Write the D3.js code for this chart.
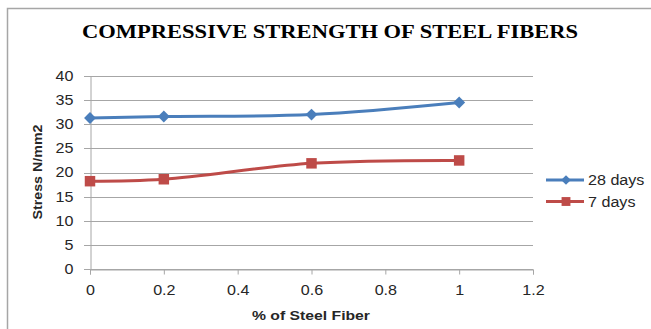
<!DOCTYPE html>
<html>
<head>
<meta charset="utf-8">
<script src="https://cdn.jsdelivr.net/npm/d3@7"></script>
<style>
  html, body { margin: 0; padding: 0; background: #fff; }
  svg { display: block; }
</style>
</head>
<body>
<svg id="chart" width="651" height="329"></svg>
<script>
// Steel fiber dosage (%) and compressive strength (N/mm2)
const fiberPct = [0, 0.2, 0.6, 1];
const strength28 = [31.3, 31.6, 32.0, 34.5];
const strength7 = [18.2, 18.6, 21.9, 22.5];
const xTicks = [0, 0.2, 0.4, 0.6, 0.8, 1, 1.2];
const yTicks = [0, 5, 10, 15, 20, 25, 30, 35, 40];
const seriesNames = ["28 days", "7 days"];
const seriesColors = ["#4a7ebb", "#be4b48"];

const svg = d3.select("#chart");
const font = "'Liberation Sans', Arial, sans-serif";
const WIDEN = 1.15; // text is set slightly wide

// Stretch a text node horizontally by a factor
function widen(sel, k) {
  sel.each(function () {
    const len = this.getComputedTextLength();
    d3.select(this).attr("textLength", len * k).attr("lengthAdjust", "spacingAndGlyphs");
  });
}

// Outer frame
svg.append("rect")
  .attr("x", 7.5).attr("y", 8.5)
  .attr("width", 700).attr("height", 400)
  .attr("fill", "#fff").attr("stroke", "#a6a6a6").attr("stroke-width", 1.5);

// Title
svg.append("text")
  .attr("x", 330).attr("y", 37.5)
  .attr("text-anchor", "middle")
  .attr("font-family", "'Liberation Serif', 'Times New Roman', serif")
  .attr("font-weight", "bold")
  .attr("font-size", 18.5)
  .attr("fill", "#000")
  .attr("textLength", 496).attr("lengthAdjust", "spacingAndGlyphs")
  .text("COMPRESSIVE STRENGTH OF STEEL FIBERS");

const x = d3.scaleLinear().domain([0, 1.2]).range([90, 533]);
const y = d3.scaleLinear().domain([0, 40]).range([269, 76]);

// Horizontal gridlines
svg.append("g")
  .selectAll("line")
  .data(yTicks)
  .join("line")
  .attr("x1", 84).attr("x2", x(1.2))
  .attr("y1", d => Math.round(y(d)) + 0.5)
  .attr("y2", d => Math.round(y(d)) + 0.5)
  .attr("stroke", "#a6a6a6").attr("stroke-width", 1);

// Y axis
const yAxis = svg.append("g")
  .attr("transform", `translate(${Math.round(x(0)) + 0.5},0)`)
  .call(d3.axisLeft(y).tickValues(yTicks).tickSize(0).tickPadding(17).tickFormat(d3.format("d")));
yAxis.select(".domain").attr("stroke", "#a6a6a6");
yAxis.selectAll("text")
  .attr("font-family", font).attr("font-size", 14).attr("fill", "#262626")
  .call(widen, WIDEN);

// X axis
const xAxis = svg.append("g")
  .attr("transform", `translate(0,${Math.round(y(0)) + 0.5})`)
  .call(d3.axisBottom(x).tickValues(xTicks).tickSizeOuter(0).tickSize(5).tickPadding(11).tickFormat(d => String(d)));
xAxis.select(".domain").attr("stroke", "#a6a6a6");
xAxis.selectAll(".tick line").attr("stroke", "#a6a6a6");
xAxis.selectAll("text")
  .attr("font-family", font).attr("font-size", 14).attr("fill", "#262626")
  .call(widen, WIDEN);

// Axis titles
svg.append("text")
  .attr("transform", "translate(42,172) rotate(-90)")
  .attr("text-anchor", "middle")
  .attr("font-family", font).attr("font-weight", "bold").attr("font-size", 13)
  .attr("fill", "#262626")
  .attr("textLength", 95).attr("lengthAdjust", "spacingAndGlyphs")
  .text("Stress N/mm2");

svg.append("text")
  .attr("x", 311).attr("y", 320)
  .attr("text-anchor", "middle")
  .attr("font-family", font).attr("font-weight", "bold").attr("font-size", 13)
  .attr("fill", "#262626")
  .attr("textLength", 118).attr("lengthAdjust", "spacingAndGlyphs")
  .text("% of Steel Fiber");

// Series
const series = [strength28, strength7];
const line = d3.line()
  .x(d => x(d[0])).y(d => y(d[1]))
  .curve(d3.curveCatmullRom.alpha(0.5));

const shapes = [
  d3.symbol().type(d3.symbolDiamond2).size(90),
  d3.symbol().type(d3.symbolSquare2).size(140)
];

series.forEach((vals, i) => {
  const pts = fiberPct.map((p, j) => [p, vals[j]]);
  const g = svg.append("g");
  g.append("path")
    .attr("d", line(pts))
    .attr("fill", "none")
    .attr("stroke", seriesColors[i])
    .attr("stroke-width", 3)
    .attr("stroke-linejoin", "round");
  g.selectAll("path.mark")
    .data(pts)
    .join("path")
    .attr("class", "mark")
    .attr("transform", d => `translate(${x(d[0])},${y(d[1])})`)
    .attr("d", shapes[i]())
    .attr("fill", seriesColors[i]);
});

// Legend
const legendShapes = [
  d3.symbol().type(d3.symbolDiamond2).size(60),
  d3.symbol().type(d3.symbolSquare2).size(100)
];
const legend = svg.append("g");
seriesNames.forEach((name, i) => {
  const ly = 180 + i * 21.5;
  legend.append("line")
    .attr("x1", 546).attr("x2", 584)
    .attr("y1", ly).attr("y2", ly)
    .attr("stroke", seriesColors[i]).attr("stroke-width", 3);
  legend.append("path")
    .attr("transform", `translate(566,${ly})`)
    .attr("d", legendShapes[i]())
    .attr("fill", seriesColors[i]);
  legend.append("text")
    .attr("x", 588).attr("y", ly + 5)
    .attr("font-family", font).attr("font-size", 14)
    .attr("fill", "#262626")
    .text(name)
    .call(widen, WIDEN);
});
</script>
</body>
</html>
